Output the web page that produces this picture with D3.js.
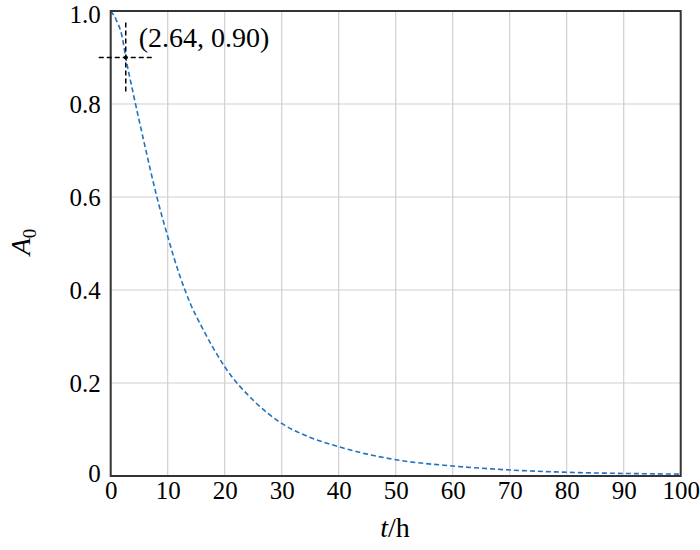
<!DOCTYPE html>
<html><head><meta charset="utf-8">
<script src="https://cdn.jsdelivr.net/npm/d3@7"></script>
<style>body{margin:0;background:#fff}</style>
</head><body><svg id="c" width="700" height="550"></svg>
<script>
const tValues = [0,1,2,2.64,4,6,8,10,12,14,16,18,20,25,30,35,40,45,50,60,70,80,90,100];
const aValues = [1.0,0.98,0.945,0.90,0.82,0.71,0.605,0.515,0.435,0.37,0.32,0.275,0.235,0.163,0.113,0.083,0.063,0.047,0.035,0.0215,0.013,0.008,0.0055,0.004];
const xTicks = [0,10,20,30,40,50,60,70,80,90,100];
const yTicks = [0,0.2,0.4,0.6,0.8,1.0];
const yTickLabels = ["0","0.2","0.4","0.6","0.8","1.0"];
const markPoint = {t:2.64, a:0.90, label:"(2.64, 0.90)"};

const FONT = "'Liberation Serif', 'Times New Roman', 'DejaVu Serif', serif";
const svg = d3.select("#c").style("font-family", FONT);
const m = {l:110.7, r:680.7, t:11, b:476};
const x = d3.scaleLinear().domain([0,100]).range([m.l,m.r]);
const y = d3.scaleLinear().domain([0,1]).range([m.b,m.t]);

// grid
svg.append("g").selectAll("line").data(xTicks.slice(1,-1)).join("line")
  .attr("x1",d=>x(d)).attr("x2",d=>x(d)).attr("y1",m.t).attr("y2",m.b)
  .attr("stroke","#d0d0d0").attr("stroke-width",1.2);
svg.append("g").selectAll("line").data(yTicks.slice(1,-1)).join("line")
  .attr("y1",d=>y(d)).attr("y2",d=>y(d)).attr("x1",m.l).attr("x2",m.r)
  .attr("stroke","#d0d0d0").attr("stroke-width",1.2);

// curve
const line = d3.line().x((d,i)=>x(tValues[i])).y(d=>y(d)).curve(d3.curveMonotoneX);
svg.append("path").attr("d",line(aValues)).attr("fill","none")
  .attr("stroke","#1f72c0").attr("stroke-width",1.6).attr("stroke-dasharray","5,3");

// frame
svg.append("rect").attr("x",m.l).attr("y",m.t).attr("width",m.r-m.l).attr("height",m.b-m.t)
  .attr("fill","none").attr("stroke","#333").attr("stroke-width",2);

// axes labels
const xAxis = d3.axisBottom(x).tickValues(xTicks).tickSize(0).tickPadding(5).tickFormat(d3.format("d"));
const gx = svg.append("g").attr("transform",`translate(0,${m.b})`).call(xAxis);
gx.attr("font-family",FONT).attr("font-size",25);
gx.select(".domain").remove();
gx.selectAll("text").style("font-family",FONT).attr("fill","#000");

const yAxis = d3.axisLeft(y).tickValues(yTicks).tickSize(0).tickPadding(10).tickFormat((d,i)=>yTickLabels[i]);
const gy = svg.append("g").attr("transform",`translate(${m.l},0)`).call(yAxis);
gy.attr("font-family",FONT).attr("font-size",25);
gy.select(".domain").remove();
gy.selectAll("text").style("font-family",FONT).attr("fill","#000");
gy.selectAll(".tick").filter(d=>d===1).select("text").attr("dy","0.45em");
gy.selectAll(".tick").filter(d=>d===0).select("text").attr("dy","0.2em");

// crosshair
const cx = x(markPoint.t), cy = y(markPoint.a);
svg.append("line").attr("x1",cx-27).attr("x2",cx+26).attr("y1",cy).attr("y2",cy)
  .attr("stroke","#000").attr("stroke-width",1.5).attr("stroke-dasharray","5,3");
svg.append("line").attr("x1",cx).attr("x2",cx).attr("y1",cy-35).attr("y2",cy+35)
  .attr("stroke","#000").attr("stroke-width",1.5).attr("stroke-dasharray","5,3");
svg.append("circle").attr("cx",cx).attr("cy",cy).attr("r",2).attr("fill","#000");
svg.append("text").attr("x",cx+13).attr("y",cy-11).attr("font-size",28).style("font-family",FONT).text(markPoint.label);

// axis titles
const xt = svg.append("text").attr("x",395).attr("y",537).attr("text-anchor","middle").attr("font-size",28).style("font-family",FONT);
xt.append("tspan").attr("font-style","italic").text("t");
xt.append("tspan").text("/h");

const yt = svg.append("text").attr("transform","translate(30,242) rotate(-90)").attr("text-anchor","middle").attr("font-size",28).style("font-family",FONT);
yt.append("tspan").attr("font-style","italic").text("A");
yt.append("tspan").attr("font-size",19).attr("dy",6).text("0");
</script></body></html>
